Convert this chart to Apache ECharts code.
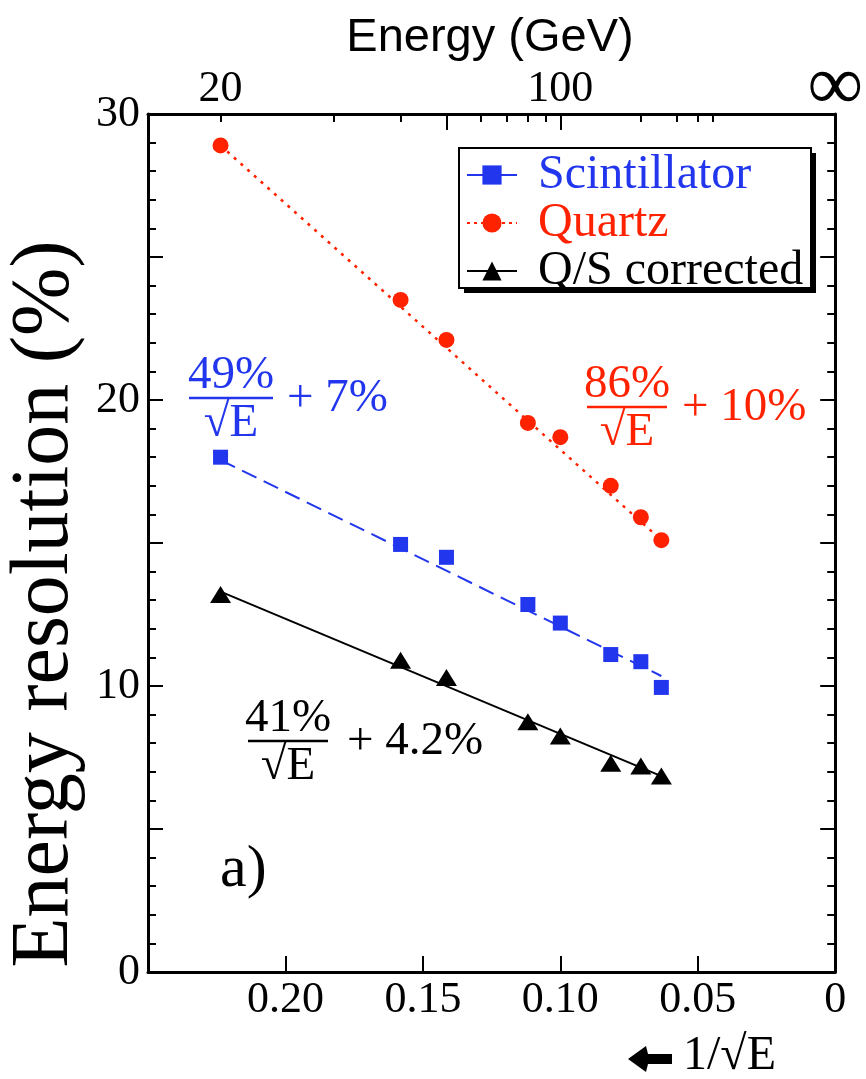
<!DOCTYPE html>
<html>
<head>
<meta charset="utf-8">
<script src="https://cdn.jsdelivr.net/npm/echarts@6/dist/echarts.min.js"></script>
<style>
html, body { margin: 0; padding: 0; background: #fff; }
#main { width: 866px; height: 1079px; }
</style>
</head>
<body>
<div id="main"></div>
<script>
// beam energies (GeV), plotted at 1/sqrt(E)
var energies = [20, 40, 50, 80, 100, 150, 200, 250];
var scintillator = [18.0, 14.95, 14.5, 12.85, 12.2, 11.1, 10.85, 9.95];
var quartz = [28.9, 23.5, 22.1, 19.2, 18.7, 17.0, 15.9, 15.1];
var corrected = [13.2, 10.9, 10.3, 8.75, 8.25, 7.3, 7.2, 6.85];
// fitted lines, read at the first and last energy
var fitEnergies = [20, 250];
var scintFit = [17.9, 10.35];
var quartzFit = [28.9, 15.1];
var correctedFit = [13.3, 6.85];
// energy scale on top
var energyTicks = [20, 30, 40, 60, 70, 80, 90, 200, 300, 400, 500];
var energyMajorTicks = [50, 100];
var energyLabels = [20, 100, Infinity];

var BLUE = '#2236ee';
var RED = '#ff2200';
var SERIF = '"Liberation Serif", "DejaVu Serif", serif';

function toX(e) { return 1 / Math.sqrt(e); }
function pairs(es, vals) {
	return es.map(function (e, i) { return [toX(e), vals[i]]; });
}

// a/sqrt(E) + b  annotation
function fraction(cx, barY, barW, num, tail, tailX, color) {
	var font = '47px ' + SERIF;
	return {
		type: 'group',
		children: [
			{ type: 'text', style: { text: num, x: cx, y: barY - 22, align: 'center', verticalAlign: 'middle', font: font, fill: color } },
			{ type: 'line', shape: { x1: cx - barW / 2, y1: barY, x2: cx + barW / 2, y2: barY }, style: { stroke: color, lineWidth: 2.5 } },
			{ type: 'text', style: { text: '\u221AE', x: cx, y: barY + 26, align: 'center', verticalAlign: 'middle', font: font, fill: color } },
			{ type: 'text', style: { text: tail, x: tailX, y: barY + 1, align: 'left', verticalAlign: 'middle', font: font, fill: color } }
		]
	};
}

var myChart = echarts.init(document.getElementById('main'));

var tickFont = { fontFamily: SERIF, fontSize: 44, color: '#000' };

var option = {
	animation: false,
	backgroundColor: '#fff',
	grid: { left: 148, right: 20, top: 114, bottom: 107 },
	legend: {
		orient: 'vertical',
		left: 461,
		top: 150,
		padding: [1, 8, 10, 5],
		itemWidth: 50,
		itemHeight: 24,
		itemGap: 0,
		textStyle: { fontFamily: SERIF, fontSize: 48, lineHeight: 42, padding: [0, 0, 0, 16] },
		data: [
			{ name: 'Scintillator', textStyle: { color: BLUE }, lineStyle: { width: 2, type: 'solid', color: BLUE, opacity: 1 } },
			{ name: 'Quartz', textStyle: { color: RED }, lineStyle: { width: 2, type: [3, 4], color: RED, opacity: 1 } },
			{ name: 'Q/S corrected', textStyle: { color: '#000' }, lineStyle: { width: 2, type: 'solid', color: '#000', opacity: 1 } }
		]
	},
	xAxis: [
		{
			type: 'value', position: 'bottom', min: 0, max: 0.25, interval: 0.05, inverse: true,
			splitLine: { show: false },
			axisLine: { onZero: false, lineStyle: { color: '#000', width: 3 } },
			axisTick: { inside: true, length: 16, lineStyle: { color: '#000', width: 2 } },
			axisLabel: Object.assign({
				margin: 6,
				formatter: function (v) {
					if (v === 0) return '0';
					if (Math.abs(v - 0.25) < 1e-9) return '';
					return v.toFixed(2);
				}
			}, tickFont)
		},
		{
			type: 'value', position: 'top', min: 0, max: 0.25, inverse: true,
			splitLine: { show: false },
			axisLine: { onZero: false, lineStyle: { color: '#000', width: 3 } },
			axisTick: { inside: true, length: 8, customValues: energyTicks.map(toX), lineStyle: { color: '#000', width: 2 } },
			axisLabel: Object.assign({
				margin: 3,
				customValues: energyLabels.map(toX),
				formatter: function (v) {
					if (v === 0) return '{inf|\u221E}';
					return String(Math.round(1 / (v * v)));
				},
				rich: { inf: { fontFamily: SERIF, fontSize: 78, lineHeight: 44, color: '#000' } }
			}, tickFont)
		},
		{
			type: 'value', position: 'top', min: 0, max: 0.25, inverse: true,
			splitLine: { show: false },
			axisLine: { show: false, onZero: false },
			axisTick: { inside: true, length: 16, customValues: energyMajorTicks.map(toX), lineStyle: { color: '#000', width: 2 } },
			axisLabel: { show: false }
		}
	],
	yAxis: [
		{
			type: 'value', position: 'left', min: 0, max: 30, interval: 5,
			splitLine: { show: false },
			axisLine: { onZero: false, lineStyle: { color: '#000', width: 3 } },
			axisTick: { inside: true, length: 15, lineStyle: { color: '#000', width: 2 } },
			minorTick: { show: true, splitNumber: 5, length: 8, lineStyle: { color: '#000', width: 2 } },
			axisLabel: Object.assign({
				margin: 8,
				formatter: function (v) { return v % 10 === 0 ? String(v) : ''; }
			}, tickFont)
		},
		{
			type: 'value', position: 'right', min: 0, max: 30, interval: 5,
			splitLine: { show: false },
			axisLine: { onZero: false, lineStyle: { color: '#000', width: 3 } },
			axisTick: { inside: true, length: 15, lineStyle: { color: '#000', width: 2 } },
			minorTick: { show: true, splitNumber: 5, length: 8, lineStyle: { color: '#000', width: 2 } },
			axisLabel: { show: false }
		}
	],
	series: [
		{
			name: 'scint fit', type: 'line', data: pairs(fitEnergies, scintFit), showSymbol: false, silent: true,
			lineStyle: { color: BLUE, width: 2, type: [16, 8] }, z: 2
		},
		{
			name: 'quartz fit', type: 'line', data: pairs(fitEnergies, quartzFit), showSymbol: false, silent: true,
			lineStyle: { color: RED, width: 2.5, type: [3, 6] }, z: 2
		},
		{
			name: 'corrected fit', type: 'line', data: pairs(fitEnergies, correctedFit), showSymbol: false, silent: true,
			lineStyle: { color: '#000', width: 2 }, z: 2
		},
		{
			name: 'Scintillator', type: 'line', data: pairs(energies, scintillator),
			symbol: 'rect', symbolSize: 15, showAllSymbol: true,
			itemStyle: { color: BLUE }, lineStyle: { width: 0, color: BLUE }, z: 5
		},
		{
			name: 'Quartz', type: 'line', data: pairs(energies, quartz),
			symbol: 'circle', symbolSize: 16, showAllSymbol: true,
			itemStyle: { color: RED }, lineStyle: { width: 0, color: RED }, z: 5
		},
		{
			name: 'Q/S corrected', type: 'line', data: pairs(energies, corrected),
			symbol: 'triangle', symbolSize: [21, 17], showAllSymbol: true,
			itemStyle: { color: '#000' }, lineStyle: { width: 0, color: '#000' }, z: 5
		}
	],
	graphic: [
		// legend frame with its drop shadow
		{ type: 'rect', z: 1, shape: { x: 464, y: 153, width: 352, height: 140 }, style: { fill: '#000' } },
		{ type: 'rect', z: 2, shape: { x: 459, y: 148, width: 352, height: 140 }, style: { fill: '#fff', stroke: '#000', lineWidth: 2 } },
		{ type: 'text', style: { text: 'Energy (GeV)', x: 490, y: 38, align: 'center', verticalAlign: 'middle', font: '47px "Liberation Sans", Arial, sans-serif', fill: '#000' } },
		{ type: 'text', rotation: Math.PI / 2, x: 45, y: 604, style: { text: 'Energy resolution (%)', x: 0, y: 0, align: 'center', verticalAlign: 'middle', font: '82px ' + SERIF, fill: '#000' } },
		fraction(231, 398, 84, '49%', '+ 7%', 287, BLUE),
		fraction(627, 407, 80, '86%', '+ 10%', 682, RED),
		fraction(288, 741, 80, '41%', '+ 4.2%', 347, '#000'),
		{ type: 'text', style: { text: 'a)', x: 220, y: 870, align: 'left', verticalAlign: 'middle', font: '60px ' + SERIF, fill: '#000' } },
		{ type: 'polygon', shape: { points: [[628, 1059], [646, 1046], [648, 1054], [672, 1054], [672, 1064], [648, 1064], [646, 1072]] }, style: { fill: '#000' } },
		{ type: 'text', style: { text: '1/\u221AE', x: 683, y: 1056, align: 'left', verticalAlign: 'middle', font: '48px ' + SERIF, fill: '#000' } }
	]
};

myChart.setOption(option);
</script>
</body>
</html>
